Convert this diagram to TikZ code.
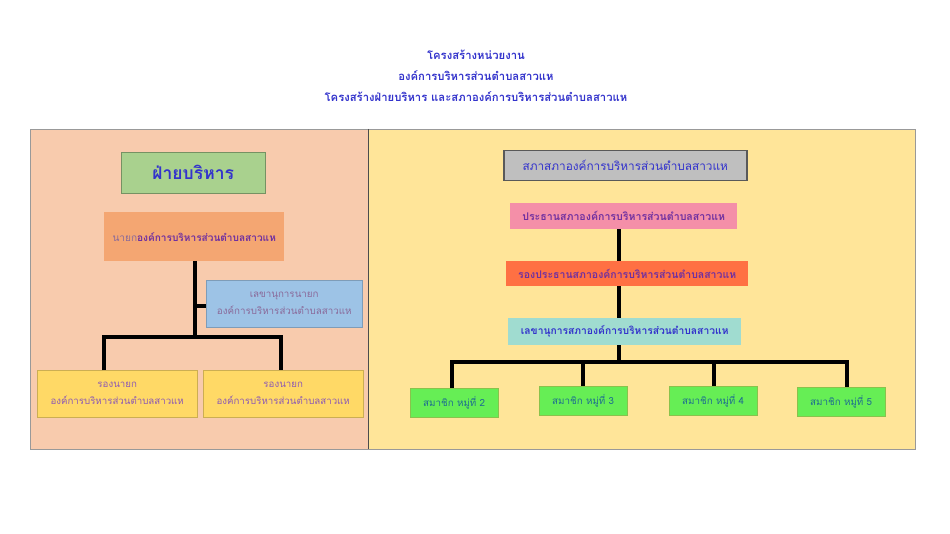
\documentclass[tikz,border=0pt]{standalone}
\usepackage{fontspec}
\newfontfamily\thaifont[Script=Thai]{Loma}
\usetikzlibrary{positioning}
\definecolor{tblue}{HTML}{3333CC}
\definecolor{tpurple}{HTML}{7030A0}
\definecolor{tgray}{HTML}{8A6A9A}
\definecolor{tteal}{HTML}{1F6F8F}
\definecolor{peach}{HTML}{F8CBAD}
\definecolor{cream}{HTML}{FFE599}
\definecolor{hgreen}{HTML}{A9D18E}
\definecolor{orangebox}{HTML}{F4A672}
\definecolor{bluebox}{HTML}{9DC3E6}
\definecolor{yellowbox}{HTML}{FFD966}
\definecolor{graybox}{HTML}{BFBFBF}
\definecolor{pinkbox}{HTML}{F48FA8}
\definecolor{redbox}{HTML}{FF7043}
\definecolor{tealbox}{HTML}{A0DCD0}
\definecolor{limebox}{HTML}{66EE55}
\tikzset{
  x=1pt,y=-1pt,
  every node/.style={font=\thaifont},
  box/.style={draw=none, inner sep=0pt, align=center, anchor=north west},
  conn/.style={line width=3.2pt, black},
  ttl/.style={font=\thaifont\bfseries\fontsize{11.3}{14}\selectfont, text=tblue},
}
\begin{document}
\begin{tikzpicture}
\useasboundingbox (0,0) rectangle (950,534);
\fill[white] (0,0) rectangle (950,534);
% titles
\node[ttl] (t1) at (476,55) {โครงสร้างหน่วยงาน};
\node[ttl] (t2) at (476,76) {องค์การบริหารส่วนตำบลสาวแห};
\node[ttl] (t3) at (476,97) {โครงสร้างฝ่ายบริหาร และสภาองค์การบริหารส่วนตำบลสาวแห};
% panels
\draw[fill=peach, draw=gray!80, line width=0.6pt] (30,129) rectangle (368,449);
\draw[fill=cream, draw=gray!80, line width=0.6pt] (368,129) rectangle (915,449);
\draw[draw=gray!60!black, line width=1pt] (368,129) -- (368,449);
% left panel
\node[box, fill=hgreen, draw=hgreen!70!black, line width=0.4pt, minimum width=144, minimum height=41,
  font=\thaifont\bfseries\fontsize{17.5}{20}\selectfont, text=tblue] (fb) at (121,152) {ฝ่ายบริหาร};
\node[box, fill=orangebox, minimum width=180, minimum height=49,
  font=\thaifont\fontsize{10.1}{13}\selectfont] (nayok) at (104,212)
  {\textcolor{tgray}{นายก}\textcolor{tpurple}{\bfseries องค์การบริหารส่วนตำบลสาวแห}};
\node[box, fill=bluebox, draw=bluebox!80!black, line width=0.4pt, minimum width=156, minimum height=47,
  font=\thaifont\fontsize{9.8}{17}\selectfont, text=tgray] (lekha) at (206,280)
  {เลขานุการนายก\\องค์การบริหารส่วนตำบลสาวแห};
\node[box, fill=yellowbox, draw=yellowbox!80!black, line width=0.4pt, minimum width=160, minimum height=47,
  font=\thaifont\fontsize{9.7}{17}\selectfont, text=tpurple!80] (rong1) at (37,370)
  {รองนายก\\องค์การบริหารส่วนตำบลสาวแห};
\node[box, fill=yellowbox, draw=yellowbox!80!black, line width=0.4pt, minimum width=160, minimum height=47,
  font=\thaifont\fontsize{9.7}{17}\selectfont, text=tpurple!80] (rong2) at (203,370)
  {รองนายก\\องค์การบริหารส่วนตำบลสาวแห};
\draw[conn] (195,261) -- (195,337);
\draw[conn] (195,306) -- (lekha.west |- 195,306);
\draw[conn] (rong1.north -| 104,0) -- (104,337) -- (281,337) -- (rong2.north -| 281,0);
% right panel
\node[box, fill=graybox, draw=gray!70!black, line width=1.5pt, minimum width=243, minimum height=30,
  font=\thaifont\fontsize{11.8}{14}\selectfont, text=tblue] (sapha) at (503,150)
  {สภาสภาองค์การบริหารส่วนตำบลสาวแห};
\node[box, fill=pinkbox, minimum width=227, minimum height=26,
  font=\thaifont\bfseries\fontsize{10.6}{13}\selectfont, text=tpurple] (pt) at (510,203)
  {ประธานสภาองค์การบริหารส่วนตำบลสาวแห};
\node[box, fill=redbox, minimum width=242, minimum height=25,
  font=\thaifont\bfseries\fontsize{10.5}{13}\selectfont, text=tpurple] (rpt) at (506,261)
  {รองประธานสภาองค์การบริหารส่วนตำบลสาวแห};
\node[box, fill=tealbox, minimum width=233, minimum height=27,
  font=\thaifont\bfseries\fontsize{10.3}{13}\selectfont, text=tblue] (lek) at (508,318)
  {เลขานุการสภาองค์การบริหารส่วนตำบลสาวแห};
\foreach \n/\x/\y/\t in {m2/410/388/2, m3/539/386/3, m4/669/386/4, m5/797/387/5}{
  \node[box, fill=limebox, draw=limebox!60!brown, line width=0.4pt, minimum width=88, minimum height=29,
    font=\thaifont\fontsize{9.8}{12}\selectfont, text=tteal] (\n) at (\x,\y) {สมาชิก หมู่ที่ \t};
}
\draw[conn] (pt.south -| 619,0) -- (rpt.north -| 619,0);
\draw[conn] (rpt.south -| 619,0) -- (lek.north -| 619,0);
\draw[conn] (lek.south -| 619,0) -- (619,362);
\draw[conn] (m2.north -| 452,0) -- (452,362) -- (847,362) -- (m5.north -| 847,0);
\draw[conn] (m3.north -| 583,0) -- (583,362);
\draw[conn] (m4.north -| 714,0) -- (714,362);
\end{tikzpicture}
\end{document}
